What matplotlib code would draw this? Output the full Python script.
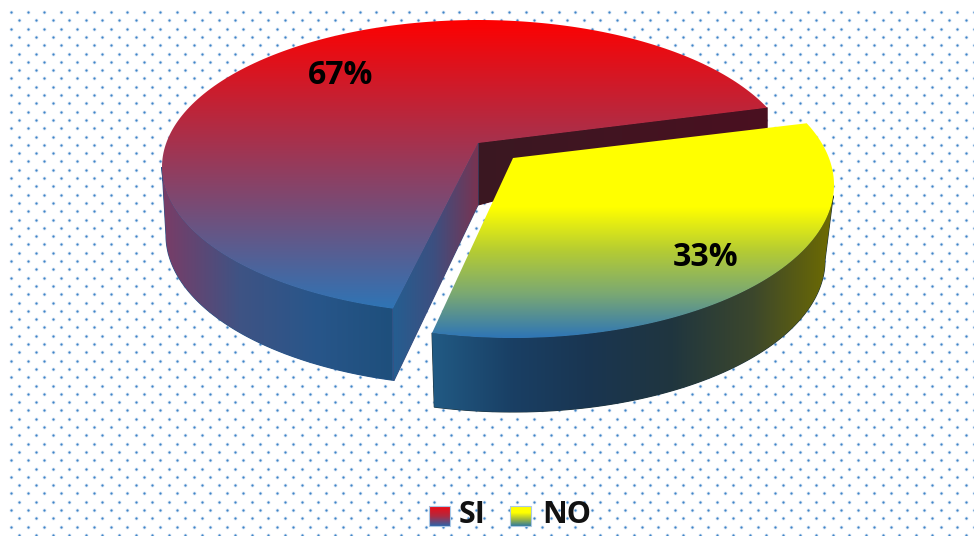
import matplotlib

matplotlib.use("Agg")
import matplotlib.pyplot as plt
import numpy as np
from matplotlib.colors import LinearSegmentedColormap
from matplotlib.patches import Polygon

categories = ["SI", "NO"]
shares = [67, 33]

W, H = 974, 536
BLUE = "#2e75b6"

# the 3D look squeezes the big slice a little
START_DEG = 23.8
SQUEEZE = 0.956


def arc(cx, cy, a, b, t0, t1, n=200):
    t = np.radians(np.linspace(t0, t1, n))
    return np.column_stack([cx + a * np.cos(t), cy - b * np.sin(t)])


def grad_fill(ax, pts, stops, extent, vertical=True, z=2, seam=False):
    cmap = LinearSegmentedColormap.from_list("g", stops)
    vals = np.linspace(0, 1, 256)
    img = vals[:, None] if vertical else vals[None, :]
    if seam:
        # solid stroke underneath hides the gaps between clipped gradients
        under = stops[len(stops) // 2]
        ax.add_patch(Polygon(pts, closed=True, fc=under, ec=under, lw=0.8, zorder=z - 0.5))
    patch = Polygon(pts, closed=True, fc="none", ec="none", transform=ax.transData)
    ax.add_patch(patch)
    im = ax.imshow(img, cmap=cmap, vmin=0, vmax=1, extent=extent, aspect="auto",
                   origin="upper", zorder=z, interpolation="bilinear")
    im.set_clip_path(patch)


fig = plt.figure(figsize=(W / 100, H / 100), dpi=100)
ax = fig.add_axes([0, 0, 1, 1])
ax.set_xlim(0, W)
ax.set_ylim(H, 0)
ax.axis("off")

# dotted background
xs, ys = [], []
for r, y in enumerate(np.arange(12, H, 8.3)):
    for x in np.arange(11 if r % 2 == 0 else 19.3, W, 16.6):
        xs.append(x)
        ys.append(y)
ax.scatter(xs, ys, s=8, color="#dde9f5", lw=0, zorder=0)
ax.scatter(xs, ys, s=2.6, color="#3f84c8", lw=0, zorder=1)

split = START_DEG + 360 * shares[0] / sum(shares) * SQUEEZE

# big slice
cx, cy, a, b = 478, 167, 316, 147
lx, ly, la, lb = 478, 235, 312, 151
apex = np.array([[478, 143]])
apex_low = np.array([[478, 205]])
rim = arc(cx, cy, a, b, START_DEG, split)
low_edge = arc(lx, ly, la, lb, 180, split)
top_left = arc(cx, cy, a, b, 180, split)

# back wall of the cut
grad_fill(ax, np.vstack([apex, rim[:1], [[rim[0][0], rim[0][1] + 20]], apex_low]),
          ["#3a1822", "#4a1020"], (478, 766, 220, 100), vertical=False, z=2, seam=True)
# outer wall
grad_fill(ax, np.vstack([top_left, low_edge[::-1]]),
          ["#7a3c66", "#3f5384", "#28568a", "#1e4f7c"], (162, 392, 400, 150),
          vertical=False, z=3, seam=True)
# cut wall
grad_fill(ax, np.vstack([rim[-1:], apex, apex_low, low_edge[-1:]]),
          ["#235f92", "#3d4f80", "#7a3350"], (390, 479, 400, 140), vertical=False, z=3,
          seam=True)
# top face
grad_fill(ax, np.vstack([apex, rim]), ["#ff0000", BLUE], (160, 800, 310, 18), z=4)

# small slice
cx2, cy2, a2, b2 = 513, 185, 321, 153
lx2, ly2, la2, lb2 = 513, 260, 312, 152
apex2 = np.array([[513, 158]])
split2 = split + 1.0
rim2 = arc(cx2, cy2, a2, b2, split2, 360 + START_DEG)
wall_top = arc(cx2, cy2, a2, b2, split2, 356)
wall_low = arc(lx2, ly2, la2, lb2, split2, 360)

grad_fill(ax, np.vstack([wall_top, wall_low[::-1]]),
          ["#215a84", "#193f64", "#1a3550", "#20363f", "#3c472c", "#6f6c00"],
          (432, 834, 415, 200), vertical=False, z=5, seam=True)
grad_fill(ax, np.vstack([apex2, rim2]),
          ["#ffff00", "#ffff00", "#ffff00", "#b5cc33", "#7aa873", BLUE],
          (430, 836, 338, 120), z=6)

# percent labels
label_font = ["Open Sans", "DejaVu Sans"]
ax.text(341, 76, f"{shares[0]}%", fontsize=23, fontweight="bold", family=label_font,
        ha="center", va="center", color="black", zorder=8)
ax.text(706, 257, f"{shares[1]}%", fontsize=23, fontweight="bold", family=label_font,
        ha="center", va="center", color="black", zorder=8)

# legend
swatches = [
    (429, ["#f20a14", "#b02a40", "#2e62a8"]),
    (510, ["#ffff00", "#ffff00", "#a0b840", "#2e7a9e"]),
]
for (x0, stops), name, tx in zip(swatches, categories, [459, 542]):
    box = [[x0, 506], [x0 + 21, 506], [x0 + 21, 526], [x0, 526]]
    grad_fill(ax, box, stops, (x0, x0 + 21, 526, 506), z=7)
    ax.add_patch(Polygon(box, closed=True, fc="none", ec="#a9c8e6", lw=0.8, zorder=8))
    ax.text(tx, 515, name, fontsize=22, fontweight="bold", family=label_font,
            ha="left", va="center", color="#111111", zorder=8)

ax.set_xlim(0, W)
ax.set_ylim(H, 0)
fig.savefig("out.png", dpi=100, facecolor="white")
plt.close(fig)
